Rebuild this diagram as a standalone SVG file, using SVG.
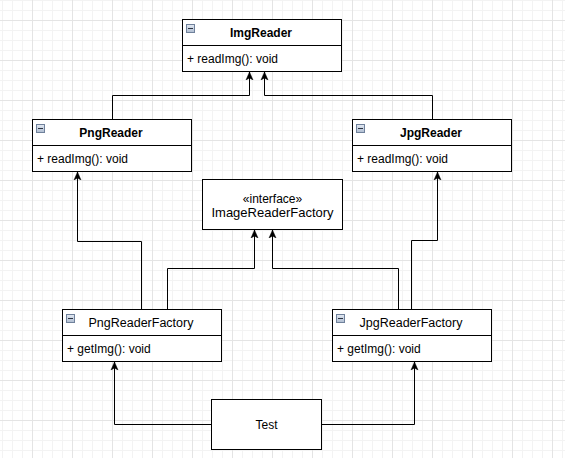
<svg xmlns="http://www.w3.org/2000/svg" width="565" height="458" viewBox="0 0 565 458">
<style>
.box{fill:#fff;stroke:#000;stroke-width:1}
.div{stroke:#000;stroke-width:1;fill:none}
.hdr{font-family:"Liberation Sans",Arial,sans-serif;font-size:12px;font-weight:bold;fill:#000;text-anchor:middle}
.mem{font-family:"Liberation Sans",Arial,sans-serif;font-size:12px;fill:#000}
.ctr{font-family:"Liberation Sans",Arial,sans-serif;fill:#000;text-anchor:middle}
.edge{fill:none;stroke:#000;stroke-width:1;marker-end:url(#arr)}
.tog{fill:url(#tg);stroke:#6f819b;stroke-width:1}
.tm{stroke:#2a3240;stroke-width:1}
</style>
<defs>
<pattern id="grid" patternUnits="userSpaceOnUse" x="32" y="20" width="40" height="40">
<rect x="0" y="0" width="40" height="40" fill="#fff"/>
<rect x="10" y="0" width="1" height="40" fill="#f3f3f3"/>
<rect x="20" y="0" width="1" height="40" fill="#f3f3f3"/>
<rect x="30" y="0" width="1" height="40" fill="#f3f3f3"/>
<rect x="0" y="10" width="40" height="1" fill="#f3f3f3"/>
<rect x="0" y="20" width="40" height="1" fill="#f3f3f3"/>
<rect x="0" y="30" width="40" height="1" fill="#f3f3f3"/>
<rect x="0" y="0" width="1" height="40" fill="#e4e4e4"/>
<rect x="0" y="0" width="40" height="1" fill="#e4e4e4"/>
</pattern>
<linearGradient id="tg" x1="0" y1="0" x2="0" y2="1">
<stop offset="0" stop-color="#e4eaf3"/>
<stop offset="1" stop-color="#aebcd0"/>
</linearGradient>
<marker id="arr" markerUnits="userSpaceOnUse" markerWidth="9" markerHeight="9" refX="8" refY="4" orient="auto" viewBox="0 0 9 8">
<path d="M8,4 L0,0.5 L2,4 L0,7.5 Z" fill="#000" stroke="#000" stroke-width="0.5"/>
</marker>
</defs>
<rect x="0" y="0" width="565" height="458" fill="url(#grid)"/>

<g id="connectors">
<path class="edge" d="M112.5,119.5 V95.5 H249.5 V72"/>
<path class="edge" d="M432.5,119.5 V95.5 H264.5 V72"/>
<path class="edge" d="M141.5,309.5 V241.5 H77.5 V172"/>
<path class="edge" d="M167.5,309.5 V268.5 H254.5 V230"/>
<path class="edge" d="M398.5,309.5 V268.5 H272.5 V230"/>
<path class="edge" d="M411.5,309.5 V240.5 H437.5 V172"/>
<path class="edge" d="M211.5,424.5 H114.5 V362"/>
<path class="edge" d="M321.5,424.5 H414.5 V362"/>
</g>

<g id="ImgReader">
<rect class="box" x="182.5" y="19.5" width="159" height="52"/>
<line class="div" x1="182.5" y1="45.5" x2="341.5" y2="45.5"/>
<rect class="tog" x="186.5" y="24.5" width="8" height="8"/>
<line class="tm" x1="188" y1="28.5" x2="193" y2="28.5"/>
<text class="hdr" x="261" y="37">ImgReader</text>
<text class="mem" x="187" y="63">+ readImg(): void</text>
</g>

<g id="PngReader">
<rect class="box" x="32.5" y="119.5" width="159" height="52"/>
<line class="div" x1="32.5" y1="145.5" x2="191.5" y2="145.5"/>
<rect class="tog" x="36.5" y="124.5" width="8" height="8"/>
<line class="tm" x1="38" y1="128.5" x2="43" y2="128.5"/>
<text class="hdr" x="111" y="137">PngReader</text>
<text class="mem" x="37" y="163">+ readImg(): void</text>
</g>

<g id="JpgReader">
<rect class="box" x="352.5" y="119.5" width="159" height="52"/>
<line class="div" x1="352.5" y1="145.5" x2="511.5" y2="145.5"/>
<rect class="tog" x="356.5" y="124.5" width="8" height="8"/>
<line class="tm" x1="358" y1="128.5" x2="363" y2="128.5"/>
<text class="hdr" x="431" y="137">JpgReader</text>
<text class="mem" x="357" y="163">+ readImg(): void</text>
</g>

<g id="ImageReaderFactory">
<rect class="box" x="202.5" y="179.5" width="140" height="50"/>
<text class="ctr" x="272.5" y="202.5" font-size="12">«interface»</text>
<text class="ctr" x="272.5" y="217" font-size="13">ImageReaderFactory</text>
</g>

<g id="PngReaderFactory">
<rect class="box" x="62.5" y="309.5" width="159" height="52"/>
<line class="div" x1="62.5" y1="335.5" x2="221.5" y2="335.5"/>
<rect class="tog" x="66.5" y="314.5" width="8" height="8"/>
<line class="tm" x1="68" y1="318.5" x2="73" y2="318.5"/>
<text class="ctr" x="141" y="327" font-size="12.5">PngReaderFactory</text>
<text class="mem" x="67" y="353">+ getImg(): void</text>
</g>

<g id="JpgReaderFactory">
<rect class="box" x="332.5" y="309.5" width="159" height="52"/>
<line class="div" x1="332.5" y1="335.5" x2="491.5" y2="335.5"/>
<rect class="tog" x="336.5" y="314.5" width="8" height="8"/>
<line class="tm" x1="338" y1="318.5" x2="343" y2="318.5"/>
<text class="ctr" x="411" y="327" font-size="12.5">JpgReaderFactory</text>
<text class="mem" x="337" y="353">+ getImg(): void</text>
</g>

<g id="Test">
<rect class="box" x="211.5" y="399.5" width="110" height="50"/>
<text class="ctr" x="266.5" y="428.5" font-size="12">Test</text>
</g>
</svg>
